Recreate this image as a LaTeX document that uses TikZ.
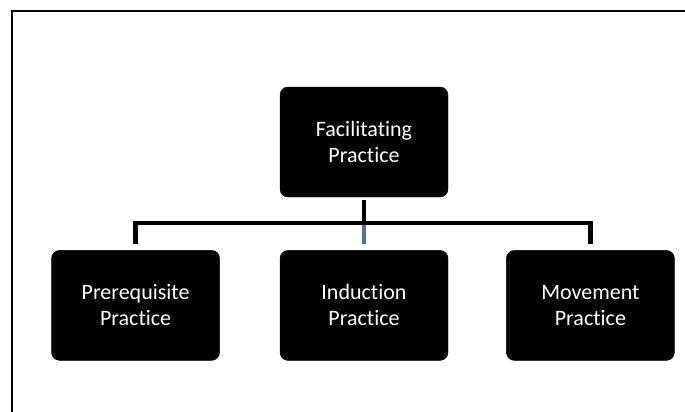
\documentclass[tikz,border=0pt]{standalone}
\usepackage{fontspec}
\setmainfont{Carlito}[Ligatures={NoCommon}]
\usepackage{xcolor}
\usepackage{tikz}
\usetikzlibrary{positioning,calc}
\definecolor{linkblue}{HTML}{4A74A8}

\begin{document}
\begin{tikzpicture}[
    x=1pt, y=-1pt,
    practice/.style={rectangle, rounded corners=8pt, fill=black, draw=black, text=white, align=center, minimum width=168pt, minimum height=110pt, inner sep=0pt, font=\fontsize{22}{26}\selectfont},
    link/.style={line width=4.5pt, black},
    frame/.style={line width=2pt, black}
]
    \useasboundingbox (0,0) rectangle (685,412);
    \draw[frame] (12,420) -- (12,11) -- (700,11);

    \node[practice] (facil) at (364,142) {Facilitating\\Practice};
    \node[practice, below=53pt of facil] (induct) {Induction\\Practice};
    \node[practice, left=60pt of induct] (prereq) {Prerequisite\\Practice};
    \node[practice, right=58pt of induct] (move) {Movement\\Practice};

    \coordinate (junction) at ($(facil.south)+(0,26)$);

    \draw[link, shorten <=3pt] (facil.south) -- (junction);
    \draw[link, shorten >=6pt] (junction) -| (prereq.north);
    \draw[link, shorten >=6pt] (junction) -| (move.north);
    \draw[link, linkblue, shorten <=2.25pt, shorten >=6pt] (junction) -- (induct.north);
\end{tikzpicture}
\end{document}
